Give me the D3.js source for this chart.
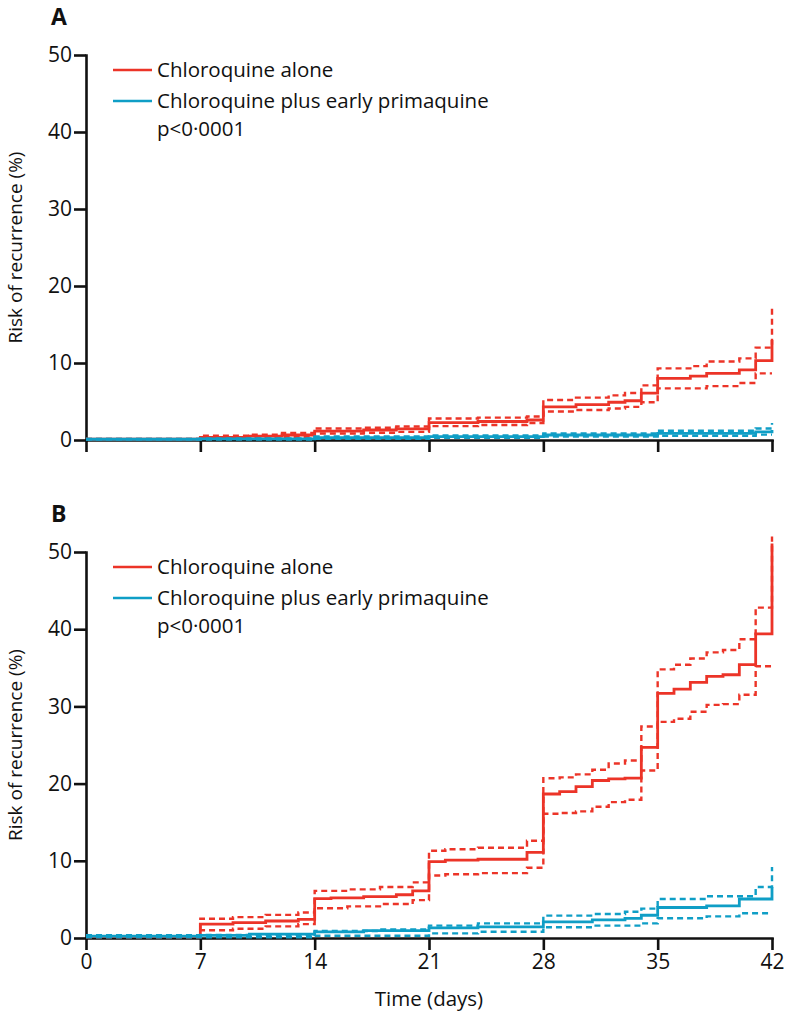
<!DOCTYPE html>
<html><head><meta charset="utf-8">
<script src="https://cdn.jsdelivr.net/npm/d3@7/dist/d3.min.js"></script>
<style>body{margin:0;background:#fff} text{font-family:"Open Sans",sans-serif;fill:#111}</style>
</head><body><svg id="c" width="785" height="1016"></svg>
<script>
// ---- data ----
const xTicks = [0, 7, 14, 21, 28, 35, 42];
const yTicks = [0, 10, 20, 30, 40, 50];
const seriesNames = ["Chloroquine alone", "Chloroquine plus early primaquine"];
const pValue = "p<0·0001";
const panelLabels = ["A", "B"];

// Panel A: [day, risk %]
const aRedMain  = [[0,0.1],[7,0.35],[10,0.5],[12,0.65],[14,1.15],[17,1.3],[19,1.45],[21,2.25],[24,2.4],[27,2.6],[28,4.3],[30,4.6],[32,4.9],[33,5.1],[34,6.1],[35,8.0],[37,8.3],[38,8.65],[40,9.1],[41,10.3],[42,13.0]];
const aRedUpper = [[0,0.15],[7,0.55],[10,0.7],[12,0.9],[14,1.5],[17,1.6],[19,1.75],[21,2.8],[24,2.9],[27,3.05],[28,5.2],[30,5.5],[32,5.8],[33,6.1],[34,7.1],[35,9.3],[37,9.6],[38,10.2],[40,10.6],[41,12.0],[42,17.3]];
const aRedLower = [[0,0.05],[7,0.15],[10,0.25],[12,0.35],[14,0.85],[17,0.95],[19,1.05],[21,1.8],[24,1.95],[27,2.2],[28,3.7],[30,3.9],[32,4.1],[33,4.3],[34,4.9],[35,6.7],[38,7.0],[40,7.4],[41,8.65],[42,8.65]];
const aBlueMain  = [[0,0.1],[7,0.15],[14,0.3],[21,0.45],[28,0.65],[35,0.85],[41,1.05],[42,1.3]];
const aBlueUpper = [[0,0.15],[7,0.2],[14,0.45],[21,0.6],[28,0.85],[35,1.2],[41,1.5],[42,2.2]];
const aBlueLower = [[0,0.05],[14,0.15],[21,0.3],[28,0.45],[35,0.55],[41,0.7],[42,0.7]];

// Panel B
const bRedMain  = [[0,0.2],[7,1.8],[9,2.0],[11,2.2],[13,2.4],[14,5.1],[15,5.2],[17,5.35],[19,5.6],[20,6.1],[21,9.9],[22,10.1],[24,10.2],[27,11.1],[28,18.65],[29,18.95],[30,19.6],[31,20.4],[32,20.6],[33,20.7],[34,24.7],[35,31.7],[36,32.25],[37,33.1],[38,33.9],[39,34.1],[40,35.4],[41,39.4],[42,51.1]];
const bRedUpper = [[0,0.3],[7,2.5],[9,2.7],[11,3.0],[13,3.3],[14,6.1],[16,6.3],[18,6.6],[20,7.2],[21,11.3],[22,11.5],[24,11.7],[27,12.6],[28,20.7],[29,20.8],[30,21.2],[31,21.8],[32,22.6],[33,23.0],[34,27.4],[35,34.8],[36,35.4],[37,36.2],[38,37.0],[39,37.3],[40,38.7],[41,42.8],[42,52]];
const bRedLower = [[0,0.1],[7,1.0],[9,1.2],[11,1.5],[13,1.8],[14,3.85],[16,4.1],[18,4.4],[20,4.9],[21,8.1],[22,8.25],[24,8.4],[27,9.1],[28,16.1],[29,16.2],[30,16.4],[31,17.0],[32,17.6],[33,17.9],[34,21.7],[35,28.0],[36,28.4],[37,29.3],[38,30.2],[39,30.3],[40,31.5],[41,35.2],[42,35.2]];
const bBlueMain  = [[0,0.25],[7,0.35],[10,0.5],[14,0.8],[17,0.95],[21,1.3],[24,1.45],[28,2.1],[31,2.35],[33,2.55],[34,2.95],[35,3.95],[38,4.15],[40,5.05],[42,6.6]];
const bBlueUpper = [[0,0.35],[7,0.4],[14,0.9],[18,1.1],[21,1.6],[24,1.9],[28,2.9],[31,3.1],[33,3.4],[34,3.8],[35,5.05],[38,5.4],[41,6.6],[42,9.2]];
const bBlueLower = [[0,0.1],[14,0.3],[21,0.6],[24,0.8],[28,1.4],[31,1.6],[34,1.9],[35,2.55],[38,2.8],[40,3.2],[42,3.2]];

// ---- drawing ----
const RED = "#ec3428", BLUE = "#0f9ec6";
const svg = d3.select("#c");
const x = d3.scaleLinear().domain([0, 42]).range([86, 772]);

const panels = [
  {label: panelLabels[0], top: 55, bottom: 440, xLabels: false,
   red: [aRedMain, aRedUpper, aRedLower], blue: [aBlueMain, aBlueUpper, aBlueLower]},
  {label: panelLabels[1], top: 552, bottom: 938, xLabels: true,
   red: [bRedMain, bRedUpper, bRedLower], blue: [bBlueMain, bBlueUpper, bBlueLower]}
];

panels.forEach(p => {
  const y = d3.scaleLinear().domain([0, 50]).range([p.bottom, p.top]);
  const g = svg.append("g");

  // axes
  const ya = g.append("g").attr("transform", "translate(86,0)")
    .call(d3.axisLeft(y).tickValues(yTicks).tickSize(12).tickSizeOuter(0).tickPadding(2));
  ya.selectAll("text").attr("font-size", 21).attr("fill", "#111").style("font-family", '"Open Sans",sans-serif');
  const xa = g.append("g").attr("transform", `translate(0,${p.bottom})`)
    .call(d3.axisBottom(x).tickValues(xTicks).tickSize(12).tickSizeOuter(0).tickPadding(4));
  xa.selectAll("text").attr("font-size", 21).attr("fill", "#111").style("font-family", '"Open Sans",sans-serif');
  if (!p.xLabels) xa.selectAll("text").remove();
  g.selectAll(".domain, .tick line").attr("stroke", "#111").attr("stroke-width", 2.6);
  g.selectAll(".domain").attr("stroke-linecap", "square");

  const line = d3.line().x(d => x(d[0])).y(d => y(d[1])).curve(d3.curveStepAfter);
  [[p.red, RED], [p.blue, BLUE]].forEach(([arr, col]) => {
    arr.forEach((s, i) => {
      g.append("path").datum(s).attr("d", line).attr("fill", "none")
        .attr("stroke", col).attr("stroke-width", i === 0 ? 2.8 : 2.4)
        .attr("stroke-dasharray", i === 0 ? null : "6,4");
    });
  });

  // panel label
  g.append("text").attr("x", 51).attr("y", p.top - 30).attr("font-size", 23)
    .attr("font-weight", "bold").text(p.label);

  // y title
  g.append("text").attr("transform", `translate(22,${(p.top + p.bottom) / 2}) rotate(-90)`)
    .attr("text-anchor", "middle").attr("font-size", 19).text("Risk of recurrence (%)");

  // legend
  const ly = p.top;
  [[RED, seriesNames[0], 15], [BLUE, seriesNames[1], 46]].forEach(([col, name, dy]) => {
    g.append("line").attr("x1", 113).attr("x2", 152).attr("y1", ly + dy).attr("y2", ly + dy)
      .attr("stroke", col).attr("stroke-width", 2.4);
    g.append("text").attr("x", 157).attr("y", ly + dy + 7).attr("font-size", 20.5).text(name);
  });
  g.append("text").attr("x", 157).attr("y", ly + 81).attr("font-size", 20.5).text(pValue);
});

svg.append("text").attr("x", 429).attr("y", 1006).attr("text-anchor", "middle")
  .attr("font-size", 20.5).text("Time (days)");
</script></body></html>
